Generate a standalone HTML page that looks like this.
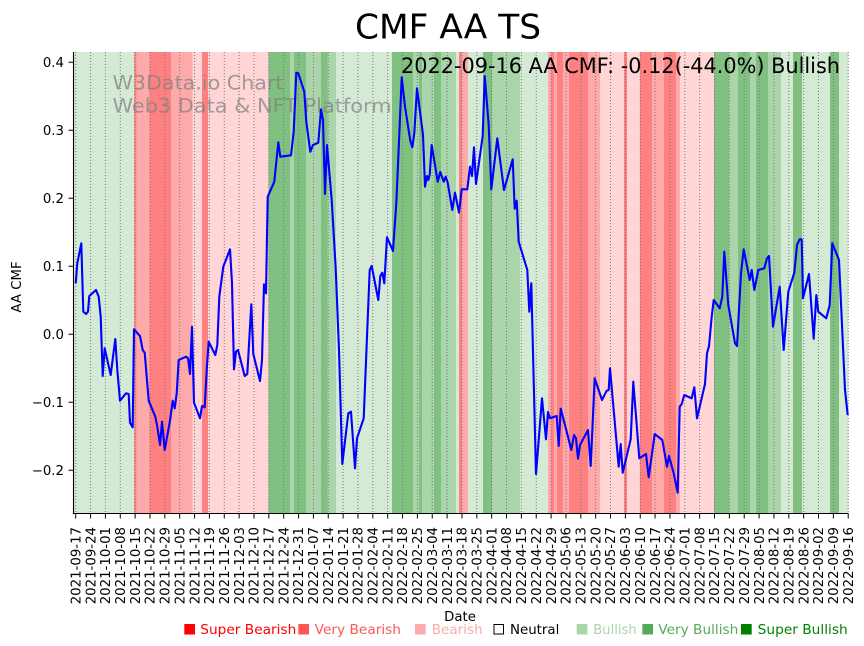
<!DOCTYPE html>
<html><head><meta charset="utf-8"><style>
html,body{margin:0;padding:0;background:#fff;}
svg{display:block;font-family:"DejaVu Sans","Liberation Sans",sans-serif;}
</style></head><body>
<svg width="864" height="646" viewBox="0 0 864 646" xmlns="http://www.w3.org/2000/svg">
<rect width="864" height="646" fill="#fff"/>
<g shape-rendering="crispEdges">
<rect x="73.5" y="52" width="60.5" height="461.5" fill="#d5ead5"/>
<rect x="134" y="52" width="2.7" height="461.5" fill="#ff8a8a"/>
<rect x="136.7" y="52" width="12.6" height="461.5" fill="#ffaaaa"/>
<rect x="149.3" y="52" width="21.7" height="461.5" fill="#ff8080"/>
<rect x="171" y="52" width="21.7" height="461.5" fill="#ffaaaa"/>
<rect x="192.7" y="52" width="9.3" height="461.5" fill="#ffd5d5"/>
<rect x="202" y="52" width="6" height="461.5" fill="#ff8080"/>
<rect x="208" y="52" width="60.7" height="461.5" fill="#ffd5d5"/>
<rect x="268.7" y="52" width="21.3" height="461.5" fill="#80c080"/>
<rect x="290" y="52" width="4" height="461.5" fill="#aad5aa"/>
<rect x="294" y="52" width="12" height="461.5" fill="#80c080"/>
<rect x="306" y="52" width="15" height="461.5" fill="#aad5aa"/>
<rect x="321" y="52" width="6.3" height="461.5" fill="#80c080"/>
<rect x="327.3" y="52" width="8.7" height="461.5" fill="#aad5aa"/>
<rect x="336" y="52" width="56" height="461.5" fill="#d5ead5"/>
<rect x="392" y="52" width="21" height="461.5" fill="#80c080"/>
<rect x="413" y="52" width="6" height="461.5" fill="#aad5aa"/>
<rect x="419" y="52" width="3" height="461.5" fill="#80c080"/>
<rect x="422" y="52" width="12" height="461.5" fill="#aad5aa"/>
<rect x="434" y="52" width="7" height="461.5" fill="#80c080"/>
<rect x="441" y="52" width="15" height="461.5" fill="#aad5aa"/>
<rect x="456" y="52" width="3" height="461.5" fill="#d5ead5"/>
<rect x="459" y="52" width="3" height="461.5" fill="#ff8080"/>
<rect x="462" y="52" width="6" height="461.5" fill="#ffaaaa"/>
<rect x="468" y="52" width="15" height="461.5" fill="#d5ead5"/>
<rect x="483" y="52" width="9" height="461.5" fill="#80c080"/>
<rect x="492" y="52" width="28" height="461.5" fill="#aad5aa"/>
<rect x="520" y="52" width="28" height="461.5" fill="#d5ead5"/>
<rect x="548" y="52" width="3" height="461.5" fill="#ffaaaa"/>
<rect x="551" y="52" width="3" height="461.5" fill="#ff8080"/>
<rect x="554" y="52" width="3" height="461.5" fill="#ffaaaa"/>
<rect x="557" y="52" width="6" height="461.5" fill="#ff8080"/>
<rect x="563" y="52" width="6" height="461.5" fill="#ffaaaa"/>
<rect x="569" y="52" width="19" height="461.5" fill="#ff8080"/>
<rect x="588" y="52" width="12" height="461.5" fill="#ffaaaa"/>
<rect x="600" y="52" width="24" height="461.5" fill="#ffd5d5"/>
<rect x="624" y="52" width="3" height="461.5" fill="#ff8080"/>
<rect x="627" y="52" width="13" height="461.5" fill="#ffd5d5"/>
<rect x="640" y="52" width="12" height="461.5" fill="#ff8080"/>
<rect x="652" y="52" width="12" height="461.5" fill="#ffaaaa"/>
<rect x="664" y="52" width="12" height="461.5" fill="#ff8080"/>
<rect x="676" y="52" width="4" height="461.5" fill="#ffaaaa"/>
<rect x="680" y="52" width="34" height="461.5" fill="#ffd5d5"/>
<rect x="714" y="52" width="15" height="461.5" fill="#80c080"/>
<rect x="729" y="52" width="9" height="461.5" fill="#aad5aa"/>
<rect x="738" y="52" width="12" height="461.5" fill="#80c080"/>
<rect x="750" y="52" width="6" height="461.5" fill="#aad5aa"/>
<rect x="756" y="52" width="12" height="461.5" fill="#80c080"/>
<rect x="768" y="52" width="13" height="461.5" fill="#aad5aa"/>
<rect x="781" y="52" width="12" height="461.5" fill="#d5ead5"/>
<rect x="793" y="52" width="9" height="461.5" fill="#80c080"/>
<rect x="802" y="52" width="28" height="461.5" fill="#d5ead5"/>
<rect x="830" y="52" width="9" height="461.5" fill="#80c080"/>
<rect x="839" y="52" width="9.5" height="461.5" fill="#d5ead5"/>
</g>
<!-- grid -->
<path stroke="#777" stroke-width="1" stroke-dasharray="1 2" fill="none" d="M75.7 52V513.5M90.56 52V513.5M105.41 52V513.5M120.27 52V513.5M135.12 52V513.5M149.98 52V513.5M164.84 52V513.5M179.69 52V513.5M194.55 52V513.5M209.4 52V513.5M224.26 52V513.5M239.12 52V513.5M253.97 52V513.5M268.83 52V513.5M283.68 52V513.5M298.54 52V513.5M313.4 52V513.5M328.25 52V513.5M343.11 52V513.5M357.96 52V513.5M372.82 52V513.5M387.68 52V513.5M402.53 52V513.5M417.39 52V513.5M432.24 52V513.5M447.1 52V513.5M461.96 52V513.5M476.81 52V513.5M491.67 52V513.5M506.52 52V513.5M521.38 52V513.5M536.24 52V513.5M551.09 52V513.5M565.95 52V513.5M580.8 52V513.5M595.66 52V513.5M610.52 52V513.5M625.37 52V513.5M640.23 52V513.5M655.08 52V513.5M669.94 52V513.5M684.8 52V513.5M699.65 52V513.5M714.51 52V513.5M729.36 52V513.5M744.22 52V513.5M759.08 52V513.5M773.93 52V513.5M788.79 52V513.5M803.64 52V513.5M818.5 52V513.5M833.36 52V513.5M848.21 52V513.5"/>
<!-- watermark -->
<g fill="#808080" fill-opacity="0.72" font-size="19.2">
<text x="112.5" y="89.5" textLength="171" lengthAdjust="spacingAndGlyphs">W3Data.io Chart</text>
<text x="112.5" y="112.5" textLength="279" lengthAdjust="spacingAndGlyphs">Web3 Data &amp; NFT Platform</text>
</g>
<!-- line -->
<polyline fill="none" stroke="#0000ff" stroke-width="2.1" stroke-linejoin="round" points="75.7,283.3 77.3,263.3 81.3,243.3 83.3,311.7 86,314 88,311.7 89.3,296 96,290 98.7,296.7 100.7,316.7 102.7,376 104.7,348.3 110.7,375 115.3,339 117.3,370 120,400.7 126,393.3 128.7,394 130,422.7 132.7,427.3 134,329.3 140,336 142.7,350 144.7,352.7 148.7,400.7 155.3,416.7 157.3,426.7 160,445 162,421.7 164.7,450 170,420.7 172.7,400.7 174.7,408.3 176.7,393.3 178.7,360 186,356.7 188,358.3 190,374 192,326.7 194,402.7 200,418.3 202,406 204.7,407.3 206.7,370 208.7,341.7 215.3,355 217.3,345 219.3,296.7 223.3,266.7 230,249.3 232,283.3 234,369.3 236,351.7 238,350 244.7,376 247.3,374 251.3,304.3 253.3,354 260,381 262,360 264,284.3 266,293.3 267.7,196.7 274.3,181.7 278.3,142.3 280.3,156.7 291,155.3 293.7,131.7 296.3,72.7 298.3,73.3 304.3,91.7 306.3,121.7 310.3,151.7 313,145 318.3,142.7 321,109.3 323,120 325,194 327,145 331.7,200 335.7,268.3 339,350 342.3,464 348.3,413.3 351,411.7 355,468.3 357,438.3 363.7,418.3 369.7,270 371.7,266 378.3,300 380.3,276 382.3,272.7 384.3,283.3 387,237.3 393,251 396.3,203.3 399,141.7 401.7,77.3 405,106.7 410.3,140.7 412.3,147.3 414.3,133.3 417,88.3 423,135 425,186.7 427,176 428.3,180 429.7,175 431.7,145 437.7,181.7 440.3,172 443.7,181.7 445.7,176.7 447.7,182.7 452.3,210 455,192.7 459,212.7 461.7,189.3 467.3,189.3 470,166.7 472,176 474,147.3 476,184 482.7,136 484.7,76 488.7,125 491.3,189.3 497.3,138.3 504,190 512.7,159.3 514.7,208.7 516.7,200.7 518.7,241.7 527.3,270 529.3,311.7 531.3,283.3 536,474 542,398.3 546,439.3 548,412 550,418.3 556.7,416 558.7,446 560.7,408.7 566.7,431.7 571.3,450 574,435 576,438.3 578,458.7 580,445 588,430 590.7,466 594.7,378.3 602,400 606.7,390.7 608.7,390 610,368.3 618.7,466.7 620.7,444 622.7,472.7 630.7,439.3 633.3,381.7 639.3,458.3 646,454 648.7,477.3 654.7,434 662.3,440 667,466.7 669,456 673.7,473.3 677.7,492.7 679.7,406.7 681.7,404 684.3,395 691.7,398.3 694.3,387.3 697,418.3 705,384 707,353.3 709,346 711.7,316.7 713.7,300 719.7,308.3 722.3,296.7 724.3,251.7 728.3,305 735,343.3 737,346 741,273.3 743.7,249.3 749.7,280 751.7,270 754.3,290 758.3,270 764.3,268.3 767,258.3 769,256 773,326.7 779.7,286.7 783.7,350 788.3,291.7 794.3,272.7 797,245 799.7,239.3 801.7,239.3 803,298.3 809,274 813.7,338.7 816.3,295 818.3,311.7 826.3,318.3 829.7,305 832.3,243.3 839,260 845,390 847.7,415"/>
<!-- spines -->
<path stroke="#000" stroke-width="1.1" fill="none" d="M73.5 52V513.5H848.5"/>
<!-- y ticks -->
<path stroke="#000" stroke-width="1" d="M68.5 62.3H73.5M68.5 130.3H73.5M68.5 198.3H73.5M68.5 266.3H73.5M68.5 334.3H73.5M68.5 402.3H73.5M68.5 470.3H73.5"/>
<g font-size="13.3" text-anchor="end" fill="#000">
<text x="64" y="67.1">0.4</text>
<text x="64" y="135.1">0.3</text>
<text x="64" y="203.1">0.2</text>
<text x="64" y="271.1">0.1</text>
<text x="64" y="339.1">0.0</text>
<text x="64" y="407.1">−0.1</text>
<text x="64" y="475.1">−0.2</text>
</g>
<!-- x ticks -->
<path stroke="#000" stroke-width="1" d="M75.7 513.5V518.5M90.56 513.5V518.5M105.41 513.5V518.5M120.27 513.5V518.5M135.12 513.5V518.5M149.98 513.5V518.5M164.84 513.5V518.5M179.69 513.5V518.5M194.55 513.5V518.5M209.4 513.5V518.5M224.26 513.5V518.5M239.12 513.5V518.5M253.97 513.5V518.5M268.83 513.5V518.5M283.68 513.5V518.5M298.54 513.5V518.5M313.4 513.5V518.5M328.25 513.5V518.5M343.11 513.5V518.5M357.96 513.5V518.5M372.82 513.5V518.5M387.68 513.5V518.5M402.53 513.5V518.5M417.39 513.5V518.5M432.24 513.5V518.5M447.1 513.5V518.5M461.96 513.5V518.5M476.81 513.5V518.5M491.67 513.5V518.5M506.52 513.5V518.5M521.38 513.5V518.5M536.24 513.5V518.5M551.09 513.5V518.5M565.95 513.5V518.5M580.8 513.5V518.5M595.66 513.5V518.5M610.52 513.5V518.5M625.37 513.5V518.5M640.23 513.5V518.5M655.08 513.5V518.5M669.94 513.5V518.5M684.8 513.5V518.5M699.65 513.5V518.5M714.51 513.5V518.5M729.36 513.5V518.5M744.22 513.5V518.5M759.08 513.5V518.5M773.93 513.5V518.5M788.79 513.5V518.5M803.64 513.5V518.5M818.5 513.5V518.5M833.36 513.5V518.5M848.21 513.5V518.5"/>
<g font-size="13.3" text-anchor="end" fill="#000">
<text transform="translate(80.4,527) rotate(-90)">2021-09-17</text>
<text transform="translate(95.26,527) rotate(-90)">2021-09-24</text>
<text transform="translate(110.11,527) rotate(-90)">2021-10-01</text>
<text transform="translate(124.97,527) rotate(-90)">2021-10-08</text>
<text transform="translate(139.82,527) rotate(-90)">2021-10-15</text>
<text transform="translate(154.68,527) rotate(-90)">2021-10-22</text>
<text transform="translate(169.54,527) rotate(-90)">2021-10-29</text>
<text transform="translate(184.39,527) rotate(-90)">2021-11-05</text>
<text transform="translate(199.25,527) rotate(-90)">2021-11-12</text>
<text transform="translate(214.1,527) rotate(-90)">2021-11-19</text>
<text transform="translate(228.96,527) rotate(-90)">2021-11-26</text>
<text transform="translate(243.82,527) rotate(-90)">2021-12-03</text>
<text transform="translate(258.67,527) rotate(-90)">2021-12-10</text>
<text transform="translate(273.53,527) rotate(-90)">2021-12-17</text>
<text transform="translate(288.38,527) rotate(-90)">2021-12-24</text>
<text transform="translate(303.24,527) rotate(-90)">2021-12-31</text>
<text transform="translate(318.1,527) rotate(-90)">2022-01-07</text>
<text transform="translate(332.95,527) rotate(-90)">2022-01-14</text>
<text transform="translate(347.81,527) rotate(-90)">2022-01-21</text>
<text transform="translate(362.66,527) rotate(-90)">2022-01-28</text>
<text transform="translate(377.52,527) rotate(-90)">2022-02-04</text>
<text transform="translate(392.38,527) rotate(-90)">2022-02-11</text>
<text transform="translate(407.23,527) rotate(-90)">2022-02-18</text>
<text transform="translate(422.09,527) rotate(-90)">2022-02-25</text>
<text transform="translate(436.94,527) rotate(-90)">2022-03-04</text>
<text transform="translate(451.8,527) rotate(-90)">2022-03-11</text>
<text transform="translate(466.66,527) rotate(-90)">2022-03-18</text>
<text transform="translate(481.51,527) rotate(-90)">2022-03-25</text>
<text transform="translate(496.37,527) rotate(-90)">2022-04-01</text>
<text transform="translate(511.22,527) rotate(-90)">2022-04-08</text>
<text transform="translate(526.08,527) rotate(-90)">2022-04-15</text>
<text transform="translate(540.94,527) rotate(-90)">2022-04-22</text>
<text transform="translate(555.79,527) rotate(-90)">2022-04-29</text>
<text transform="translate(570.65,527) rotate(-90)">2022-05-06</text>
<text transform="translate(585.5,527) rotate(-90)">2022-05-13</text>
<text transform="translate(600.36,527) rotate(-90)">2022-05-20</text>
<text transform="translate(615.22,527) rotate(-90)">2022-05-27</text>
<text transform="translate(630.07,527) rotate(-90)">2022-06-03</text>
<text transform="translate(644.93,527) rotate(-90)">2022-06-10</text>
<text transform="translate(659.78,527) rotate(-90)">2022-06-17</text>
<text transform="translate(674.64,527) rotate(-90)">2022-06-24</text>
<text transform="translate(689.5,527) rotate(-90)">2022-07-01</text>
<text transform="translate(704.35,527) rotate(-90)">2022-07-08</text>
<text transform="translate(719.21,527) rotate(-90)">2022-07-15</text>
<text transform="translate(734.06,527) rotate(-90)">2022-07-22</text>
<text transform="translate(748.92,527) rotate(-90)">2022-07-29</text>
<text transform="translate(763.78,527) rotate(-90)">2022-08-05</text>
<text transform="translate(778.63,527) rotate(-90)">2022-08-12</text>
<text transform="translate(793.49,527) rotate(-90)">2022-08-19</text>
<text transform="translate(808.34,527) rotate(-90)">2022-08-26</text>
<text transform="translate(823.2,527) rotate(-90)">2022-09-02</text>
<text transform="translate(838.06,527) rotate(-90)">2022-09-09</text>
<text transform="translate(852.91,527) rotate(-90)">2022-09-16</text>
</g>
<!-- labels -->
<text x="448" y="38.5" font-size="34" text-anchor="middle" fill="#000" textLength="186" lengthAdjust="spacingAndGlyphs">CMF AA TS</text>
<text x="401" y="73" font-size="21" fill="#000" textLength="439" lengthAdjust="spacingAndGlyphs">2022-09-16 AA CMF: -0.12(-44.0%) Bullish</text>
<text transform="translate(21,287) rotate(-90)" font-size="13.3" text-anchor="middle" fill="#000">AA CMF</text>
<text x="460" y="621" font-size="13.3" text-anchor="middle" fill="#000">Date</text>
<!-- legend -->
<g font-size="13.6">
<rect x="184.3" y="624" width="10.7" height="10.5" fill="#ff0000"/>
<text x="200.3" y="634" fill="#ff0000" textLength="96" lengthAdjust="spacingAndGlyphs">Super Bearish</text>
<rect x="298.3" y="624" width="10.7" height="10.5" fill="#ff5555"/>
<text x="314.7" y="634" fill="#ff5555" textLength="86.3" lengthAdjust="spacingAndGlyphs">Very Bearish</text>
<rect x="415" y="624" width="10.7" height="10.5" fill="#ffaaaa"/>
<text x="431.7" y="634" fill="#ffaaaa" textLength="51" lengthAdjust="spacingAndGlyphs">Bearish</text>
<rect x="494" y="624.5" width="9.5" height="9.5" fill="#fff" stroke="#000" stroke-width="1"/>
<text x="510" y="634" fill="#000" textLength="49.3" lengthAdjust="spacingAndGlyphs">Neutral</text>
<rect x="576.7" y="624" width="10.7" height="10.5" fill="#aad4aa"/>
<text x="593.3" y="634" fill="#aad4aa" textLength="43.4" lengthAdjust="spacingAndGlyphs">Bullish</text>
<rect x="642.3" y="624" width="10.7" height="10.5" fill="#55aa55"/>
<text x="658.3" y="634" fill="#55aa55" textLength="80" lengthAdjust="spacingAndGlyphs">Very Bullish</text>
<rect x="741" y="624" width="10.7" height="10.5" fill="#008000"/>
<text x="757.7" y="634" fill="#008000" textLength="90" lengthAdjust="spacingAndGlyphs">Super Bullish</text>
</g>
</svg>
</body></html>
